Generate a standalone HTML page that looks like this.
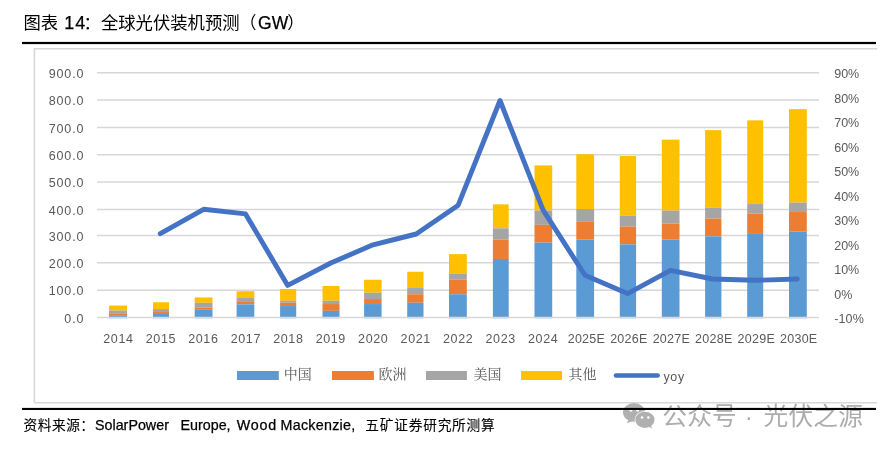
<!DOCTYPE html>
<html lang="zh"><head><meta charset="utf-8"><title>图表 14：全球光伏装机预测（GW）</title>
<style>html,body{margin:0;padding:0;background:#fff}body{width:890px;height:451px;position:relative;overflow:hidden}</style>
</head><body>
<svg width="890" height="451" viewBox="0 0 890 451" style="position:absolute;left:0;top:0">
<path d="M877.2 48.85H34.4V402.7H877.2" fill="none" stroke="#d7d7d7" stroke-width="1.5"/>
<line x1="97.0" x2="819.0" y1="290.18" y2="290.18" stroke="#d7d7d7" stroke-width="1.5"/>
<line x1="97.0" x2="819.0" y1="262.84" y2="262.84" stroke="#d7d7d7" stroke-width="1.5"/>
<line x1="97.0" x2="819.0" y1="235.50" y2="235.50" stroke="#d7d7d7" stroke-width="1.5"/>
<line x1="97.0" x2="819.0" y1="209.46" y2="209.46" stroke="#d7d7d7" stroke-width="1.5"/>
<line x1="97.0" x2="819.0" y1="182.10" y2="182.10" stroke="#d7d7d7" stroke-width="1.5"/>
<line x1="97.0" x2="819.0" y1="154.77" y2="154.77" stroke="#d7d7d7" stroke-width="1.5"/>
<line x1="97.0" x2="819.0" y1="127.43" y2="127.43" stroke="#d7d7d7" stroke-width="1.5"/>
<line x1="97.0" x2="819.0" y1="100.09" y2="100.09" stroke="#d7d7d7" stroke-width="1.5"/>
<line x1="97.0" x2="819.0" y1="72.75" y2="72.75" stroke="#d7d7d7" stroke-width="1.5"/>
<rect x="109.00" y="317.52" width="18.00" height="1.60" fill="#5B9BD5" opacity="0.22"/>
<rect x="109.00" y="305.55" width="18.00" height="5.00" fill="#FFC000"/>
<rect x="109.00" y="310.55" width="18.00" height="3.30" fill="#A5A5A5"/>
<rect x="109.00" y="313.85" width="18.00" height="1.40" fill="#ED7D31"/>
<rect x="109.00" y="315.25" width="18.00" height="2.27" fill="#5B9BD5"/>
<rect x="153.00" y="317.52" width="16.00" height="1.60" fill="#5B9BD5" opacity="0.22"/>
<rect x="153.00" y="302.25" width="16.00" height="6.80" fill="#FFC000"/>
<rect x="153.00" y="309.05" width="16.00" height="3.00" fill="#A5A5A5"/>
<rect x="153.00" y="312.05" width="16.00" height="2.00" fill="#ED7D31"/>
<rect x="153.00" y="314.05" width="16.00" height="3.47" fill="#5B9BD5"/>
<rect x="194.70" y="317.52" width="17.80" height="1.60" fill="#5B9BD5" opacity="0.22"/>
<rect x="194.70" y="297.45" width="17.80" height="5.40" fill="#FFC000"/>
<rect x="194.70" y="302.85" width="17.80" height="4.60" fill="#A5A5A5"/>
<rect x="194.70" y="307.45" width="17.80" height="1.80" fill="#ED7D31"/>
<rect x="194.70" y="309.25" width="17.80" height="8.27" fill="#5B9BD5"/>
<rect x="236.60" y="317.52" width="17.70" height="1.60" fill="#5B9BD5" opacity="0.22"/>
<rect x="236.60" y="291.25" width="17.70" height="6.80" fill="#FFC000"/>
<rect x="236.60" y="298.05" width="17.70" height="3.20" fill="#A5A5A5"/>
<rect x="236.60" y="301.25" width="17.70" height="3.10" fill="#ED7D31"/>
<rect x="236.60" y="304.35" width="17.70" height="13.17" fill="#5B9BD5"/>
<rect x="280.10" y="317.52" width="16.10" height="1.60" fill="#5B9BD5" opacity="0.22"/>
<rect x="280.10" y="289.05" width="16.10" height="11.70" fill="#FFC000"/>
<rect x="280.10" y="300.75" width="16.10" height="2.00" fill="#A5A5A5"/>
<rect x="280.10" y="302.75" width="16.10" height="3.30" fill="#ED7D31"/>
<rect x="280.10" y="306.05" width="16.10" height="11.47" fill="#5B9BD5"/>
<rect x="322.50" y="317.52" width="17.00" height="1.60" fill="#5B9BD5" opacity="0.22"/>
<rect x="322.50" y="285.95" width="17.00" height="14.80" fill="#FFC000"/>
<rect x="322.50" y="300.75" width="17.00" height="3.30" fill="#A5A5A5"/>
<rect x="322.50" y="304.05" width="17.00" height="6.80" fill="#ED7D31"/>
<rect x="322.50" y="310.85" width="17.00" height="6.67" fill="#5B9BD5"/>
<rect x="364.10" y="317.52" width="17.50" height="1.60" fill="#5B9BD5" opacity="0.22"/>
<rect x="364.10" y="279.75" width="17.50" height="13.00" fill="#FFC000"/>
<rect x="364.10" y="292.75" width="17.50" height="6.30" fill="#A5A5A5"/>
<rect x="364.10" y="299.05" width="17.50" height="5.00" fill="#ED7D31"/>
<rect x="364.10" y="304.05" width="17.50" height="13.47" fill="#5B9BD5"/>
<rect x="407.20" y="317.52" width="16.30" height="1.60" fill="#5B9BD5" opacity="0.22"/>
<rect x="407.20" y="271.75" width="16.30" height="16.30" fill="#FFC000"/>
<rect x="407.20" y="288.05" width="16.30" height="6.20" fill="#A5A5A5"/>
<rect x="407.20" y="294.25" width="16.30" height="8.50" fill="#ED7D31"/>
<rect x="407.20" y="302.75" width="16.30" height="14.77" fill="#5B9BD5"/>
<rect x="449.00" y="317.52" width="17.80" height="1.60" fill="#5B9BD5" opacity="0.22"/>
<rect x="449.00" y="254.15" width="17.80" height="19.30" fill="#FFC000"/>
<rect x="449.00" y="273.45" width="17.80" height="6.30" fill="#A5A5A5"/>
<rect x="449.00" y="279.75" width="17.80" height="14.50" fill="#ED7D31"/>
<rect x="449.00" y="294.25" width="17.80" height="23.27" fill="#5B9BD5"/>
<rect x="492.90" y="317.52" width="15.80" height="1.60" fill="#5B9BD5" opacity="0.22"/>
<rect x="492.90" y="204.35" width="15.80" height="24.00" fill="#FFC000"/>
<rect x="492.90" y="228.35" width="15.80" height="11.30" fill="#A5A5A5"/>
<rect x="492.90" y="239.65" width="15.80" height="19.30" fill="#ED7D31"/>
<rect x="492.90" y="258.95" width="15.80" height="58.57" fill="#5B9BD5"/>
<rect x="534.50" y="317.52" width="17.70" height="1.60" fill="#5B9BD5" opacity="0.22"/>
<rect x="534.50" y="165.45" width="17.70" height="45.10" fill="#FFC000"/>
<rect x="534.50" y="210.55" width="17.70" height="14.30" fill="#A5A5A5"/>
<rect x="534.50" y="224.85" width="17.70" height="17.80" fill="#ED7D31"/>
<rect x="534.50" y="242.65" width="17.70" height="74.87" fill="#5B9BD5"/>
<rect x="576.30" y="317.52" width="17.80" height="1.60" fill="#5B9BD5" opacity="0.22"/>
<rect x="576.30" y="154.25" width="17.80" height="54.80" fill="#FFC000"/>
<rect x="576.30" y="209.05" width="17.80" height="12.80" fill="#A5A5A5"/>
<rect x="576.30" y="221.85" width="17.80" height="17.80" fill="#ED7D31"/>
<rect x="576.30" y="239.65" width="17.80" height="77.87" fill="#5B9BD5"/>
<rect x="619.80" y="317.52" width="16.30" height="1.60" fill="#5B9BD5" opacity="0.22"/>
<rect x="619.80" y="155.95" width="16.30" height="59.70" fill="#FFC000"/>
<rect x="619.80" y="215.65" width="16.30" height="10.90" fill="#A5A5A5"/>
<rect x="619.80" y="226.55" width="16.30" height="17.80" fill="#ED7D31"/>
<rect x="619.80" y="244.35" width="16.30" height="73.17" fill="#5B9BD5"/>
<rect x="661.80" y="317.52" width="17.70" height="1.60" fill="#5B9BD5" opacity="0.22"/>
<rect x="661.80" y="139.65" width="17.70" height="70.90" fill="#FFC000"/>
<rect x="661.80" y="210.55" width="17.70" height="13.10" fill="#A5A5A5"/>
<rect x="661.80" y="223.65" width="17.70" height="16.00" fill="#ED7D31"/>
<rect x="661.80" y="239.65" width="17.70" height="77.87" fill="#5B9BD5"/>
<rect x="705.10" y="317.52" width="16.30" height="1.60" fill="#5B9BD5" opacity="0.22"/>
<rect x="705.10" y="130.15" width="16.30" height="77.40" fill="#FFC000"/>
<rect x="705.10" y="207.55" width="16.30" height="11.10" fill="#A5A5A5"/>
<rect x="705.10" y="218.65" width="16.30" height="17.70" fill="#ED7D31"/>
<rect x="705.10" y="236.35" width="16.30" height="81.17" fill="#5B9BD5"/>
<rect x="747.20" y="317.52" width="16.00" height="1.60" fill="#5B9BD5" opacity="0.22"/>
<rect x="747.20" y="120.35" width="16.00" height="83.70" fill="#FFC000"/>
<rect x="747.20" y="204.05" width="16.00" height="9.60" fill="#A5A5A5"/>
<rect x="747.20" y="213.65" width="16.00" height="19.50" fill="#ED7D31"/>
<rect x="747.20" y="233.15" width="16.00" height="84.37" fill="#5B9BD5"/>
<rect x="789.00" y="317.52" width="17.80" height="1.60" fill="#5B9BD5" opacity="0.22"/>
<rect x="789.00" y="109.15" width="17.80" height="93.40" fill="#FFC000"/>
<rect x="789.00" y="202.55" width="17.80" height="9.50" fill="#A5A5A5"/>
<rect x="789.00" y="212.05" width="17.80" height="19.60" fill="#ED7D31"/>
<rect x="789.00" y="231.65" width="17.80" height="85.87" fill="#5B9BD5"/>
<line x1="97.0" x2="819.0" y1="317.52" y2="317.52" stroke="#d7d7d7" stroke-width="1.5"/>
<polyline points="160.30,233.70 203.60,209.30 245.50,213.90 287.70,285.40 330.80,263.00 373.00,244.80 416.20,234.00 458.20,205.20 500.00,100.50 543.00,209.90 585.00,275.30 627.50,293.60 670.50,270.30 712.50,279.00 754.80,280.30 797.30,279.00" fill="none" stroke="#4472C4" stroke-width="4.9" stroke-linejoin="round" stroke-linecap="round"/>
<text x="84.3" y="322.77" text-anchor="end" font-family="'Liberation Sans',sans-serif" font-size="12.5" fill="#595959" letter-spacing="0.85">0.0</text>
<text x="84.3" y="295.43" text-anchor="end" font-family="'Liberation Sans',sans-serif" font-size="12.5" fill="#595959" letter-spacing="0.85">100.0</text>
<text x="84.3" y="268.09" text-anchor="end" font-family="'Liberation Sans',sans-serif" font-size="12.5" fill="#595959" letter-spacing="0.85">200.0</text>
<text x="84.3" y="240.75" text-anchor="end" font-family="'Liberation Sans',sans-serif" font-size="12.5" fill="#595959" letter-spacing="0.85">300.0</text>
<text x="84.3" y="214.71" text-anchor="end" font-family="'Liberation Sans',sans-serif" font-size="12.5" fill="#595959" letter-spacing="0.85">400.0</text>
<text x="84.3" y="187.35" text-anchor="end" font-family="'Liberation Sans',sans-serif" font-size="12.5" fill="#595959" letter-spacing="0.85">500.0</text>
<text x="84.3" y="160.02" text-anchor="end" font-family="'Liberation Sans',sans-serif" font-size="12.5" fill="#595959" letter-spacing="0.85">600.0</text>
<text x="84.3" y="132.68" text-anchor="end" font-family="'Liberation Sans',sans-serif" font-size="12.5" fill="#595959" letter-spacing="0.85">700.0</text>
<text x="84.3" y="105.34" text-anchor="end" font-family="'Liberation Sans',sans-serif" font-size="12.5" fill="#595959" letter-spacing="0.85">800.0</text>
<text x="84.3" y="78.00" text-anchor="end" font-family="'Liberation Sans',sans-serif" font-size="12.5" fill="#595959" letter-spacing="0.85">900.0</text>
<text x="834.2" y="323.30" font-family="'Liberation Sans',sans-serif" font-size="12.5" fill="#595959" letter-spacing="0.15">-10%</text>
<text x="834.2" y="298.77" font-family="'Liberation Sans',sans-serif" font-size="12.5" fill="#595959" letter-spacing="0">0%</text>
<text x="834.2" y="274.24" font-family="'Liberation Sans',sans-serif" font-size="12.5" fill="#595959" letter-spacing="0">10%</text>
<text x="834.2" y="249.71" font-family="'Liberation Sans',sans-serif" font-size="12.5" fill="#595959" letter-spacing="0">20%</text>
<text x="834.2" y="225.18" font-family="'Liberation Sans',sans-serif" font-size="12.5" fill="#595959" letter-spacing="0">30%</text>
<text x="834.2" y="200.65" font-family="'Liberation Sans',sans-serif" font-size="12.5" fill="#595959" letter-spacing="0">40%</text>
<text x="834.2" y="176.12" font-family="'Liberation Sans',sans-serif" font-size="12.5" fill="#595959" letter-spacing="0">50%</text>
<text x="834.2" y="151.59" font-family="'Liberation Sans',sans-serif" font-size="12.5" fill="#595959" letter-spacing="0">60%</text>
<text x="834.2" y="127.06" font-family="'Liberation Sans',sans-serif" font-size="12.5" fill="#595959" letter-spacing="0">70%</text>
<text x="834.2" y="102.53" font-family="'Liberation Sans',sans-serif" font-size="12.5" fill="#595959" letter-spacing="0">80%</text>
<text x="834.2" y="78.00" font-family="'Liberation Sans',sans-serif" font-size="12.5" fill="#595959" letter-spacing="0">90%</text>
<text x="118.44" y="343" text-anchor="middle" font-family="'Liberation Sans',sans-serif" font-size="12.5" fill="#595959" letter-spacing="0.63">2014</text>
<text x="160.91" y="343" text-anchor="middle" font-family="'Liberation Sans',sans-serif" font-size="12.5" fill="#595959" letter-spacing="0.63">2015</text>
<text x="203.38" y="343" text-anchor="middle" font-family="'Liberation Sans',sans-serif" font-size="12.5" fill="#595959" letter-spacing="0.63">2016</text>
<text x="245.85" y="343" text-anchor="middle" font-family="'Liberation Sans',sans-serif" font-size="12.5" fill="#595959" letter-spacing="0.63">2017</text>
<text x="288.32" y="343" text-anchor="middle" font-family="'Liberation Sans',sans-serif" font-size="12.5" fill="#595959" letter-spacing="0.63">2018</text>
<text x="330.79" y="343" text-anchor="middle" font-family="'Liberation Sans',sans-serif" font-size="12.5" fill="#595959" letter-spacing="0.63">2019</text>
<text x="373.26" y="343" text-anchor="middle" font-family="'Liberation Sans',sans-serif" font-size="12.5" fill="#595959" letter-spacing="0.63">2020</text>
<text x="415.73" y="343" text-anchor="middle" font-family="'Liberation Sans',sans-serif" font-size="12.5" fill="#595959" letter-spacing="0.63">2021</text>
<text x="458.20" y="343" text-anchor="middle" font-family="'Liberation Sans',sans-serif" font-size="12.5" fill="#595959" letter-spacing="0.63">2022</text>
<text x="500.67" y="343" text-anchor="middle" font-family="'Liberation Sans',sans-serif" font-size="12.5" fill="#595959" letter-spacing="0.63">2023</text>
<text x="543.14" y="343" text-anchor="middle" font-family="'Liberation Sans',sans-serif" font-size="12.5" fill="#595959" letter-spacing="0.63">2024</text>
<text x="586.41" y="343" text-anchor="middle" font-family="'Liberation Sans',sans-serif" font-size="12.5" fill="#595959" letter-spacing="0.25">2025E</text>
<text x="628.88" y="343" text-anchor="middle" font-family="'Liberation Sans',sans-serif" font-size="12.5" fill="#595959" letter-spacing="0.25">2026E</text>
<text x="671.35" y="343" text-anchor="middle" font-family="'Liberation Sans',sans-serif" font-size="12.5" fill="#595959" letter-spacing="0.25">2027E</text>
<text x="713.82" y="343" text-anchor="middle" font-family="'Liberation Sans',sans-serif" font-size="12.5" fill="#595959" letter-spacing="0.25">2028E</text>
<text x="756.29" y="343" text-anchor="middle" font-family="'Liberation Sans',sans-serif" font-size="12.5" fill="#595959" letter-spacing="0.25">2029E</text>
<text x="798.76" y="343" text-anchor="middle" font-family="'Liberation Sans',sans-serif" font-size="12.5" fill="#595959" letter-spacing="0.25">2030E</text>
<rect x="237.00" y="371" width="41.80" height="9" fill="#5B9BD5"/>
<text x="283.70" y="379.3" font-family="'Liberation Serif','Noto Serif CJK SC',serif" font-size="14" fill="#595959">中国</text>
<rect x="332.00" y="371" width="41.90" height="9" fill="#ED7D31"/>
<text x="378.50" y="379.3" font-family="'Liberation Serif','Noto Serif CJK SC',serif" font-size="14" fill="#595959">欧洲</text>
<rect x="426.00" y="371" width="40.90" height="9" fill="#A5A5A5"/>
<text x="473.50" y="379.3" font-family="'Liberation Serif','Noto Serif CJK SC',serif" font-size="14" fill="#595959">美国</text>
<rect x="521.10" y="371" width="41.00" height="9" fill="#FFC000"/>
<text x="568.50" y="379.3" font-family="'Liberation Serif','Noto Serif CJK SC',serif" font-size="14" fill="#595959">其他</text>
<line x1="616" x2="657.6" y1="375.5" y2="375.5" stroke="#4472C4" stroke-width="4.6" stroke-linecap="round"/>
<text x="663.5" y="380.5" font-family="'Liberation Sans',sans-serif" font-size="12.5" fill="#595959" letter-spacing="0.6">yoy</text>
<g fill="#b0b0b0"><ellipse cx="634" cy="412.3" rx="11" ry="9.4"/><path d="M628.6 419.5L626.8 423.3L632.2 421.2z"/><ellipse cx="644.9" cy="419.8" rx="10.3" ry="8.8" fill="#fff"/><ellipse cx="644.9" cy="419.8" rx="9.6" ry="8.1"/><path d="M648.6 426.6L652 428.7L651 425.6z"/><circle cx="630.9" cy="410.3" r="1.35" fill="#fff"/><circle cx="637.6" cy="410.3" r="1.35" fill="#fff"/><circle cx="642" cy="417.5" r="1.3" fill="#fff"/><circle cx="648.4" cy="417.5" r="1.3" fill="#fff"/></g>
<text x="662.3" y="424.7" font-family="'Liberation Sans','Noto Sans CJK SC',sans-serif" font-size="24.7" font-weight="400" fill="#adadad" letter-spacing="0.2">公众号</text>
<text x="749" y="424.7" text-anchor="middle" font-family="'Liberation Sans','Noto Sans CJK SC',sans-serif" font-size="24.7" font-weight="400" fill="#adadad" letter-spacing="0.2">·</text>
<text x="763.6" y="424.7" font-family="'Liberation Sans','Noto Sans CJK SC',sans-serif" font-size="24.7" font-weight="400" fill="#adadad" letter-spacing="0.2">光伏之源</text>
<rect x="22" y="41.9" width="854" height="2.2" fill="#000"/>
<rect x="22" y="407.9" width="854" height="2.1" fill="#000"/>
<text x="23.40" y="28.7" font-family="'Liberation Sans','Noto Sans CJK SC',sans-serif" font-size="17.35" letter-spacing="0" fill="#000" stroke="#000" stroke-width="0">图表</text>
<text x="64.20" y="28.7" font-family="'Liberation Sans','Noto Sans CJK SC',sans-serif" font-size="17.9" letter-spacing="1.2" fill="#000" stroke="#000" stroke-width="0.25">14</text>
<text x="83.40" y="28.7" font-family="'Liberation Sans','Noto Sans CJK SC',sans-serif" font-size="17" letter-spacing="0" fill="#000" stroke="#000" stroke-width="0">：</text>
<text x="100.90" y="28.7" font-family="'Liberation Sans','Noto Sans CJK SC',sans-serif" font-size="17.35" letter-spacing="0" fill="#000" stroke="#000" stroke-width="0">全球光伏装机预测</text>
<text x="239.60" y="28.7" font-family="'Liberation Sans','Noto Sans CJK SC',sans-serif" font-size="17" letter-spacing="0" fill="#000" stroke="#000" stroke-width="0">（</text>
<text x="258.10" y="28.7" font-family="'Liberation Sans','Noto Sans CJK SC',sans-serif" font-size="17.5" letter-spacing="0" fill="#000" stroke="#000" stroke-width="0.25">GW</text>
<text x="287.30" y="28.7" font-family="'Liberation Sans','Noto Sans CJK SC',sans-serif" font-size="17" letter-spacing="0" fill="#000" stroke="#000" stroke-width="0">）</text>
<text x="23.60" y="429.5" font-family="'Liberation Sans','Noto Sans CJK SC',sans-serif" font-size="13.7" letter-spacing="0.55" font-weight="400" fill="#000" stroke="#000" stroke-width="0.1">资料来源</text>
<text x="80.30" y="429.5" font-family="'Liberation Sans','Noto Sans CJK SC',sans-serif" font-size="14" letter-spacing="0" font-weight="400" fill="#000" stroke="#000" stroke-width="0">：</text>
<text x="95.00" y="429.5" font-family="'Liberation Sans','Noto Sans CJK SC',sans-serif" font-size="14.3" letter-spacing="0" font-weight="400" fill="#000" stroke="#000" stroke-width="0.25">SolarPower</text>
<text x="180.50" y="429.5" font-family="'Liberation Sans','Noto Sans CJK SC',sans-serif" font-size="14.3" letter-spacing="0" font-weight="400" fill="#000" stroke="#000" stroke-width="0.25">Europe,</text>
<text x="236.70" y="429.5" font-family="'Liberation Sans','Noto Sans CJK SC',sans-serif" font-size="14.3" letter-spacing="0.8" font-weight="400" fill="#000" stroke="#000" stroke-width="0.25">Wood</text>
<text x="280.60" y="429.5" font-family="'Liberation Sans','Noto Sans CJK SC',sans-serif" font-size="14.3" letter-spacing="0.25" font-weight="400" fill="#000" stroke="#000" stroke-width="0.25">Mackenzie,</text>
<text x="365.20" y="429.5" font-family="'Liberation Sans','Noto Sans CJK SC',sans-serif" font-size="13.7" letter-spacing="0.8" font-weight="400" fill="#000" stroke="#000" stroke-width="0.1">五矿证券研究所测算</text>
</svg>
</body></html>
